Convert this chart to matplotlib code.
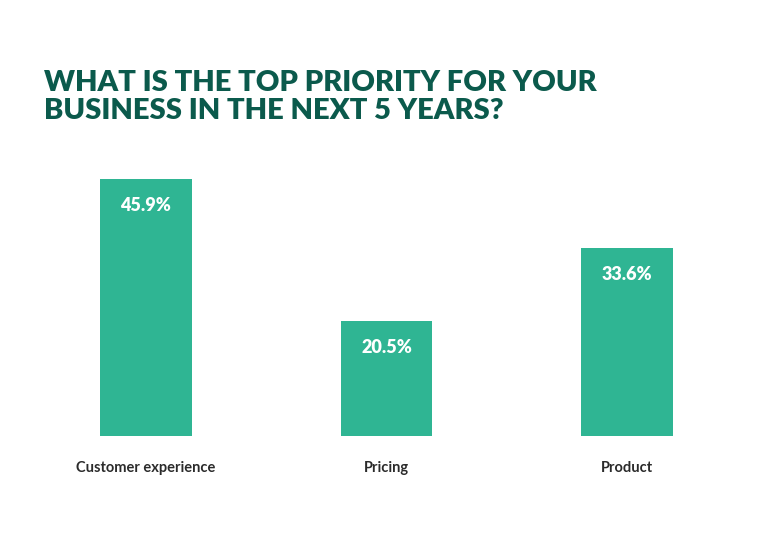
import matplotlib.pyplot as plt

categories = ["Customer experience", "Pricing", "Product"]
values = [45.9, 20.5, 33.6]

bar_color = "#2fb593"
title_color = "#0b5a4c"

plt.rcParams['font.family'] = ['Lato', 'DejaVu Sans']

fig = plt.figure(figsize=(7.71, 5.41), dpi=100)
ax = fig.add_axes([100 / 771, 1 - 436 / 541, 573 / 771, 280 / 541])

xs = list(range(len(categories)))
bars = ax.bar(xs, values, width=0.382, color=bar_color)
ax.set_xlim(-0.191, 2.191)
ax.set_ylim(0, 50)

for b, v in zip(bars, values):
    ax.annotate(f"{v}%", (b.get_x() + b.get_width() / 2, v),
                xytext=(0, -13), textcoords="offset points",
                ha="center", va="top", color="white",
                fontsize=13, fontweight="heavy")

ax.set_xticks(xs)
ax.set_xticklabels(categories, fontsize=10.5, fontweight="bold", color="#2b2b2b")
ax.tick_params(axis="x", length=0, pad=18)
ax.set_yticks([])
for s in ax.spines.values():
    s.set_visible(False)

fig.text(44 / 771, 1 - 70 / 541,
         "WHAT IS THE TOP PRIORITY FOR YOUR\nBUSINESS IN THE NEXT 5 YEARS?",
         ha="left", va="top", fontsize=21, fontweight="heavy",
         color=title_color, linespacing=1.1)

fig.savefig("out.png", dpi=100)
